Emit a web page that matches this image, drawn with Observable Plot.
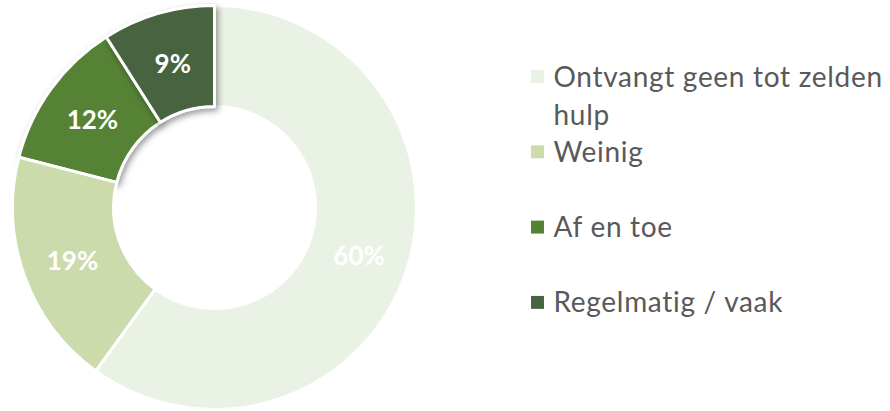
<!DOCTYPE html>
<html>
<head>
<meta charset="utf-8">
<script src="https://cdn.jsdelivr.net/npm/d3@7"></script>
<script src="https://cdn.jsdelivr.net/npm/@observablehq/plot@0.6"></script>
<style>
  html, body { margin: 0; padding: 0; background: #fff; }
  #chart svg { display: block; }
</style>
</head>
<body>
<div id="chart"></div>
<script>
// ---- data ----
const categories = ["Ontvangt geen tot zelden hulp", "Weinig", "Af en toe", "Regelmatig / vaak"];
const values = [60, 19, 12, 9];
const labels = ["60%", "19%", "12%", "9%"];
const legendLines = [["Ontvangt geen tot zelden", "hulp"], ["Weinig"], ["Af en toe"], ["Regelmatig / vaak"]];
const colors = ["#EAF2E6", "#CCDBAC", "#548235", "#466441"];
const raised = [false, false, true, true];
const drawOrder = [0, 2, 3, 1];

// ---- layout ----
const W = 890, H = 411;
const CX = 214.5, CY = 207.5, R = 202, RI = 101;
const LEG_X = 537, LEG_TEXT_X = 553, LEG_Y0 = 76, LEG_STEP = 75.3;

const pie = d3.pie().sort(null).value(d => d.value).startAngle(0).endAngle(2 * Math.PI);
const table = categories.map((c, i) => ({category: c, value: values[i], label: labels[i], color: colors[i], raised: raised[i], lines: legendLines[i], i}));
const arcs = pie(table);
const slices = arcs.map(a => {
  const mid = (a.startAngle + a.endAngle) / 2;
  const rm = (R + RI) / 2;
  return {...a.data, startAngle: a.startAngle, endAngle: a.endAngle,
          lx: CX + rm * Math.sin(mid), ly: CY - rm * Math.cos(mid)};
});
const legend = table.map((d, i) => ({...d, cy: LEG_Y0 + i * LEG_STEP}));

const arcGen = d3.arc().innerRadius(RI).outerRadius(R);

function donut(index, scales) {
  const g = d3.create("svg:g");
  const defs = g.append("defs");
  const f = defs.append("filter").attr("id", "shadow").attr("x", "-20%").attr("y", "-20%").attr("width", "150%").attr("height", "150%");
  f.append("feDropShadow").attr("dx", 2).attr("dy", 3).attr("stdDeviation", 3).attr("flood-color", "#000").attr("flood-opacity", 0.4);
  const cx = scales.x(CX), cy = scales.y(CY);
  const order = drawOrder.map(i => slices[i]);
  g.selectAll("path").data(order).join("path")
    .attr("transform", `translate(${cx},${cy})`)
    .attr("d", d => arcGen(d))
    .attr("fill", d => d.color)
    .attr("stroke", "#fff")
    .attr("stroke-width", 3)
    .attr("stroke-linejoin", "round")
    .attr("filter", d => d.raised ? "url(#shadow)" : null);
  return g.node();
}

const legendText = legend.map(d => ({x: LEG_TEXT_X, y: d.cy - 17, text: d.lines.join("\n")}));

const plot = Plot.plot({
  width: W, height: H,
  margin: 0,
  x: {domain: [0, W], range: [0, W], axis: null},
  y: {domain: [0, H], range: [0, H], axis: null},
  marks: [
    donut,
    Plot.text(slices, {x: "lx", y: "ly", dy: 2, text: "label", fill: "#fff", fontSize: 26, fontWeight: "bold", fontFamily: "Lato", textAnchor: "middle", lineAnchor: "middle"}),
    Plot.dot(legend, {x: LEG_X, y: "cy", fill: "color", symbol: "square", r: 7.3, stroke: null}),
    Plot.text(legendText, {x: "x", y: "y", text: "text", fill: "#595959", fontSize: 28, fontFamily: "Lato", textAnchor: "start", lineAnchor: "top", lineHeight: 1.36})
  ]
});
plot.querySelectorAll("text").forEach(t => {
  if (t.getAttribute("fill") === "#595959" || (t.parentNode && t.parentNode.getAttribute("fill") === "#595959")) t.style.letterSpacing = "0.7px";
});
document.getElementById("chart").appendChild(plot);
</script>
</body>
</html>
